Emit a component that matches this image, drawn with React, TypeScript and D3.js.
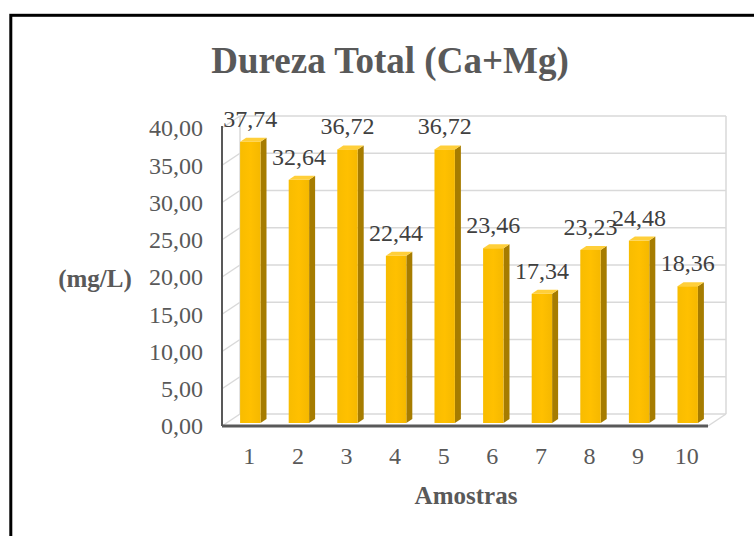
import React from "react";
import * as d3 from "d3";

const categories = ["1", "2", "3", "4", "5", "6", "7", "8", "9", "10"];
const values = [37.74, 32.64, 36.72, 22.44, 36.72, 23.46, 17.34, 23.23, 24.48, 18.36];
const yTicks = [0, 5, 10, 15, 20, 25, 30, 35, 40];
const title = "Dureza Total (Ca+Mg)";
const yTitle = "(mg/L)";
const xTitle = "Amostras";

const W = 754;
const H = 536;
const DX = 18; // depth offset x
const DY = -12; // depth offset y

const fmt = (v: number) => v.toFixed(2).replace(".", ",");

export default function App() {
  const x = d3.scaleBand<string>().domain(categories).range([222, 708]).paddingInner(0.58).paddingOuter(0.29);
  const y = d3.scaleLinear().domain([0, 40]).range([426, 128]);
  const bw = x.bandwidth();
  const bx = 4;
  const by = -3;
  const sdx = 6;
  const sdy = -4;
  const serif = "'Liberation Serif', 'Times New Roman', serif";
  const [x0, x1] = x.range();

  return (
    <svg width={W} height={H} style={{ position: "absolute", left: 0, top: 0, background: "#fff" }}>
      <defs>
        <linearGradient id="front" x1="0" x2="1" y1="0" y2="0">
          <stop offset="0" stopColor="#F8BC00" />
          <stop offset="0.5" stopColor="#FFC000" />
          <stop offset="1" stopColor="#F5B800" />
        </linearGradient>
      </defs>
      <rect x={10.8} y={15.3} width={900} height={700} fill="#fff" stroke="#000" strokeWidth={3} />
      {yTicks.map((t) => (
        <line key={"g" + t} x1={x0 + DX} x2={x1 + DX} y1={y(t) + DY} y2={y(t) + DY} stroke="#d9d9d9" strokeWidth={1.5} />
      ))}
      {yTicks.map((t) => (
        <line key={"d" + t} x1={x0} x2={x0 + DX} y1={y(t)} y2={y(t) + DY} stroke="#d9d9d9" strokeWidth={1.5} />
      ))}
      <line x1={x0 + DX} x2={x0 + DX} y1={y(40) + DY} y2={y(0) + DY} stroke="#d9d9d9" strokeWidth={1.5} />
      <line x1={x1 + DX} x2={x1 + DX} y1={y(40) + DY} y2={y(0) + DY} stroke="#d9d9d9" strokeWidth={1.5} />
      <line x1={x1} x2={x1 + DX} y1={y(0)} y2={y(0) + DY} stroke="#d9d9d9" strokeWidth={1.5} />
      {values.map((v, i) => {
        const fx = (x(categories[i]) as number) + bx;
        const fy0 = y(0) + by;
        const fy1 = y(v) + by;
        const side = `M${fx + bw},${fy1} L${fx + bw + sdx},${fy1 + sdy} L${fx + bw + sdx},${fy0 + sdy} L${fx + bw},${fy0} Z`;
        const top = `M${fx},${fy1} L${fx + sdx},${fy1 + sdy} L${fx + bw + sdx},${fy1 + sdy} L${fx + bw},${fy1} Z`;
        return (
          <g key={"b" + i}>
            <path d={side} fill="#A67C00" />
            <path d={top} fill="#FFCF3A" />
            <rect x={fx} y={fy1} width={bw} height={fy0 - fy1} fill="url(#front)" />
          </g>
        );
      })}
      <line x1={x0} x2={x0} y1={y(40) - 2} y2={y(0)} stroke="#595959" strokeWidth={2} />
      <line x1={x0} x2={x1} y1={y(0)} y2={y(0)} stroke="#595959" strokeWidth={3} />
      {yTicks.map((t) => (
        <text key={"t" + t} x={203} y={y(t)} dy="0.35em" textAnchor="end" fontFamily={serif} fontSize={24} fill="#595959">
          {fmt(t)}
        </text>
      ))}
      {categories.map((c) => (
        <text key={"x" + c} x={(x(c) as number) + bw / 2 + 3} y={464} textAnchor="middle" fontFamily={serif} fontSize={24} fill="#595959">
          {c}
        </text>
      ))}
      {values.map((v, i) => (
        <text key={"v" + i} x={(x(categories[i]) as number) + bw / 2 + 4} y={y(v) - 18} textAnchor="middle" fontFamily={serif} fontSize={24} fill="#404040">
          {fmt(v)}
        </text>
      ))}
      <text x={390} y={73} textAnchor="middle" fontFamily={serif} fontWeight="bold" fontSize={37} fill="#595959">
        {title}
      </text>
      <text x={95} y={287} textAnchor="middle" fontFamily={serif} fontWeight="bold" fontSize={25} fill="#595959">
        {yTitle}
      </text>
      <text x={466} y={504} textAnchor="middle" fontFamily={serif} fontWeight="bold" fontSize={25} fill="#595959">
        {xTitle}
      </text>
    </svg>
  );
}
